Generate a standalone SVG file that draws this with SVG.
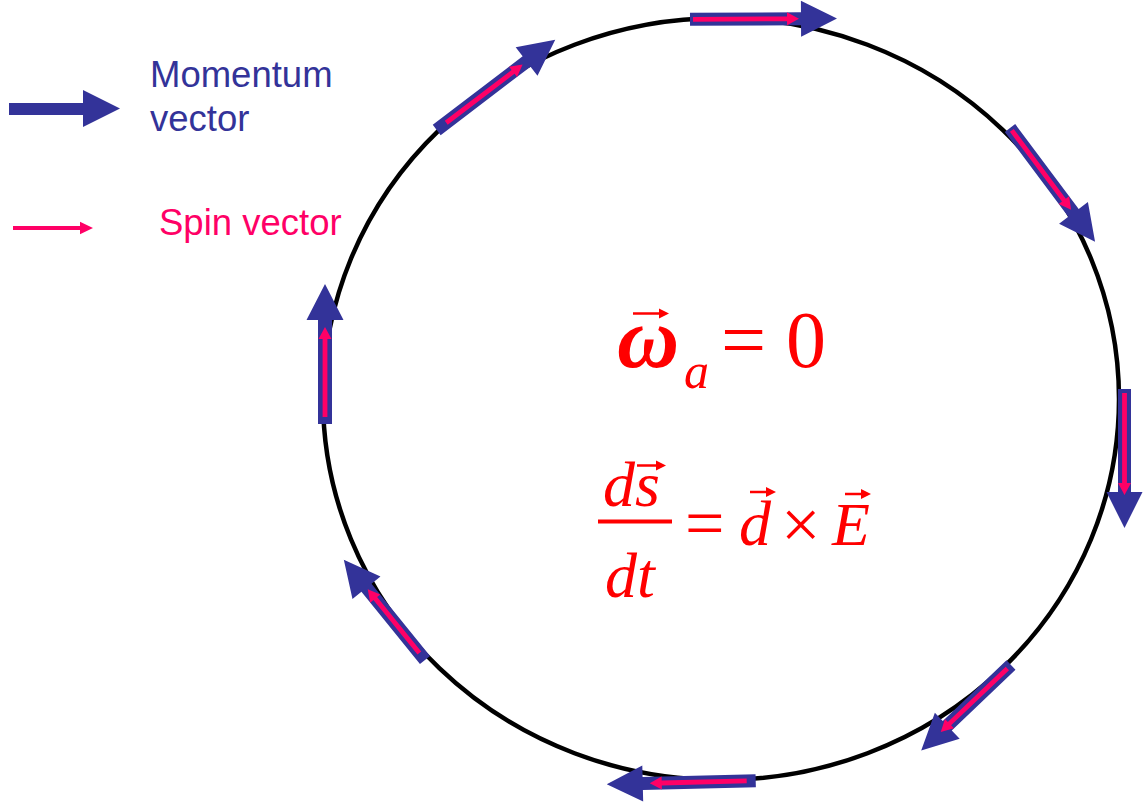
<svg xmlns="http://www.w3.org/2000/svg" width="1143" height="807" viewBox="0 0 1143 807">
<style>
.mom{fill:#333399}
.spin{fill:#FF0066}
.lbl{font-family:"Liberation Sans",Arial,sans-serif;font-size:36.5px}
.eq{font-family:"Liberation Serif","Times New Roman",serif;fill:#FF0000}
.it{font-style:italic}
.vec{stroke:#FF0000;stroke-width:2.5;fill:none}
.vh{fill:#FF0000}
</style>
<rect width="1143" height="807" fill="#FFFFFF"/>
<g id="ring">
<ellipse cx="721" cy="399" rx="398" ry="381" fill="none" stroke="#000000" stroke-width="4.5"/>
</g>
<g id="legend-momentum">
<path class="mom" d="M9,103 H83 V90 L120,108.5 L83,127 V115 H9 Z"/>
<text class="lbl" x="150" y="87" fill="#333399">Momentum</text>
<text class="lbl" x="150" y="131" fill="#333399">vector</text>
</g>
<g id="legend-spin">
<path class="spin" d="M13,226 H80 V221.8 L93,228 L80,234.2 V230 H13 Z"/>
<text class="lbl" x="159" y="235" fill="#FF0066">Spin vector</text>
</g>
<g id="arrows">
<g id="a-top" transform="translate(690,19.3) rotate(-0.3)">
<path class="mom" d="M0,-6.5 H111 V-18 L147,0 L111,18 V6.5 H0 Z"/>
<path class="spin" d="M3,-2.4 H97 V-6.5 L109,0 L97,6.5 V2.4 H3 Z"/>
</g>
<g id="a-upper-right" transform="translate(1010,128) rotate(53.2)">
<path class="mom" d="M0,-6.5 H106 V-18 L142,0 L106,18 V6.5 H0 Z"/>
<path class="spin" d="M3,-2.4 H90 V-6.5 L102,0 L90,6.5 V2.4 H3 Z"/>
</g>
<g id="a-right" transform="translate(1124.5,389) rotate(90)">
<path class="mom" d="M0,-6.5 H103 V-18 L139,0 L103,18 V6.5 H0 Z"/>
<path class="spin" d="M4,-2.4 H94 V-6.5 L106,0 L94,6.5 V2.4 H4 Z"/>
</g>
<g id="a-lower-right" transform="translate(1011,665) rotate(136.4)">
<path class="mom" d="M0,-6.5 H88 V-18 L124,0 L88,18 V6.5 H0 Z"/>
<path class="spin" d="M5,-2.4 H85 V-6.5 L97,0 L85,6.5 V2.4 H5 Z"/>
</g>
<g id="a-bottom" transform="translate(755.7,780.7) rotate(178.6)">
<path class="mom" d="M0,-6.5 H113 V-18 L149,0 L113,18 V6.5 H0 Z"/>
<path class="spin" d="M9,-2.4 H94 V-6.5 L106,0 L94,6.5 V2.4 H9 Z"/>
</g>
<g id="a-lower-left" transform="translate(425,660) rotate(-129)">
<path class="mom" d="M0,-6.5 H93 V-18 L129,0 L93,18 V6.5 H0 Z"/>
<path class="spin" d="M9,-2.4 H79 V-6.5 L91,0 L79,6.5 V2.4 H9 Z"/>
</g>
<g id="a-left" transform="translate(325,424) rotate(-90)">
<path class="mom" d="M0,-7 H104 V-18.5 L140,0 L104,18.5 V7 H0 Z"/>
<path class="spin" d="M7,-2.4 H85 V-6.5 L97,0 L85,6.5 V2.4 H7 Z"/>
</g>
<g id="a-upper-left" transform="translate(436.7,130) rotate(-37.3)">
<path class="mom" d="M0,-6.5 H113 V-18 L149,0 L113,18 V6.5 H0 Z"/>
<path class="spin" d="M12,-2.4 H96 V-6.5 L108,0 L96,6.5 V2.4 H12 Z"/>
</g>
</g>
<g id="eq-omega">
<text class="eq it" x="617" y="367" font-size="86" font-weight="bold">ω</text>
<text class="eq it" x="684" y="388" font-size="50">a</text>
<path class="vec" d="M633,313.5 H661"/>
<path class="vh" d="M669,313.5 L659,308.5 L659,318.5 Z"/>
<text class="eq" x="721" y="367" font-size="80">=</text>
<text class="eq" x="786" y="367" font-size="80">0</text>
</g>
<g id="eq-spin">
<text class="eq it" x="603" y="506" font-size="64">ds</text>
<path class="vec" d="M637,465.5 H658"/>
<path class="vh" d="M666,465.5 L656,460.5 L656,470.5 Z"/>
<line x1="598" y1="521.5" x2="672" y2="521.5" stroke="#FF0000" stroke-width="4"/>
<text class="eq it" x="605" y="597" font-size="64">dt</text>
<text class="eq" x="685" y="547" font-size="70">=</text>
<text class="eq it" x="739" y="545" font-size="64">d</text>
<path class="vec" d="M750,492 H768"/>
<path class="vh" d="M776,492 L766,487 L766,497 Z"/>
<text class="eq" x="781" y="548" font-size="70">×</text>
<text class="eq it" x="832" y="545" font-size="62">E</text>
<path class="vec" d="M845,494 H863"/>
<path class="vh" d="M871,494 L861,489 L861,499 Z"/>
</g>
</svg>
